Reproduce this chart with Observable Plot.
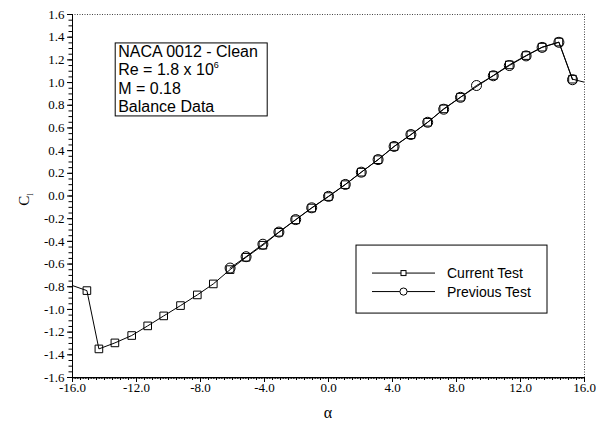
<!DOCTYPE html>
<html><head><meta charset="utf-8">
<script src="https://cdn.jsdelivr.net/npm/d3@7"></script>
<script src="https://cdn.jsdelivr.net/npm/@observablehq/plot@0.6"></script>
<style>
body{margin:0;background:#fff;}
</style>
</head><body><div id="chart"></div>
<script>
const alphaCurrent = [-16.5, -15.1, -14.35, -13.35, -12.3, -11.3, -10.3, -9.25, -8.2, -7.2, -6.15, -5.15, -4.1, -3.1, -2.05, -1.05, 0.0, 1.05, 2.05, 3.1, 4.1, 5.15, 6.2, 7.2, 8.25, 10.3, 11.3, 12.35, 13.35, 14.4, 15.25, 16.5];
const clCurrent = [-0.765, -0.834, -1.348, -1.295, -1.23, -1.145, -1.057, -0.966, -0.872, -0.775, -0.649, -0.54, -0.434, -0.32, -0.21, -0.106, -0.005, 0.10, 0.21, 0.32, 0.436, 0.54, 0.65, 0.768, 0.871, 1.062, 1.156, 1.238, 1.312, 1.357, 1.03, 0.985];
const alphaPrevious = [-6.15, -5.15, -4.1, -3.1, -2.05, -1.05, 0.0, 1.05, 2.05, 3.1, 4.1, 5.15, 6.2, 7.2, 8.25, 9.25, 10.3, 11.3, 12.35, 13.35, 14.4, 15.25];
const clPrevious = [-0.635, -0.535, -0.425, -0.318, -0.208, -0.104, -0.003, 0.102, 0.21, 0.321, 0.437, 0.542, 0.65, 0.765, 0.87, 0.974, 1.06, 1.15, 1.235, 1.31, 1.355, 1.025];
const xTickLabels = [-16, -12, -8, -4, 0, 4, 8, 12, 16];
const yTickLabels = [-1.6, -1.4, -1.2, -1.0, -0.8, -0.6, -0.4, -0.2, 0.0, 0.2, 0.4, 0.6, 0.8, 1.0, 1.2, 1.4, 1.6];
const infoLines = ["NACA 0012 - Clean", "Re = 1.8 x 10", "M = 0.18", "Balance Data"];
const legendLabels = ["Current Test", "Previous Test"];

const SERIF = "Liberation Serif";
const SANS = "Liberation Sans";

const current = alphaCurrent.map((a, i) => ({a, cl: clCurrent[i]}));
const previous = alphaPrevious.map((a, i) => ({a, cl: clPrevious[i]}));
const inDomain = d => d.a >= -16 && d.a <= 16;

const xFine = d3.range(-160, 161).map(d => d / 10);
const xHalf = d3.range(-32, 33).map(d => d / 2);
const yMinor = d3.range(-32, 33).map(d => d / 20);

const plot = Plot.plot({
  width: 596, height: 422,
  marginLeft: 72, marginRight: 12, marginTop: 14, marginBottom: 45,
  style: {fontSize: "13px", color: "#000", background: "#fff", overflow: "visible"},
  x: {domain: [-16, 16]},
  y: {domain: [-1.6, 1.6]},
  marks: [
    Plot.ruleY([1.6], {stroke: "#444", strokeDasharray: "1,1.5"}),
    Plot.ruleX([16], {stroke: "#444", strokeDasharray: "1,1.5"}),
    Plot.axisX({ticks: xFine, tickSize: 2, text: null, label: null}),
    Plot.axisX({ticks: xHalf, tickSize: 3, text: null, label: null}),
    Plot.axisX({ticks: xTickLabels, tickSize: 5, tickPadding: 0, tickFormat: d => d.toFixed(1), label: null, fontSize: 13, fontFamily: SERIF}),
    Plot.axisY({ticks: yMinor, tickSize: 3.5, text: null, label: null}),
    Plot.axisY({ticks: yTickLabels, tickSize: 5, tickPadding: 3, tickFormat: d => d.toFixed(1), label: null, fontSize: 13, fontFamily: SERIF}),
    Plot.ruleY([-1.6], {stroke: "black"}),
    Plot.ruleX([-16], {stroke: "black"}),
    Plot.line(current, {x: "a", y: "cl", stroke: "black", strokeWidth: 1, clip: true}),
    Plot.line(previous, {x: "a", y: "cl", stroke: "black", strokeWidth: 1, clip: true}),
    Plot.dot(current.filter(inDomain), {x: "a", y: "cl", symbol: "square", r: 4.3, stroke: "black", fill: "none", strokeWidth: 1}),
    Plot.dot(previous, {x: "a", y: "cl", symbol: "circle", r: 5, stroke: "black", fill: "none", strokeWidth: 1})
  ]
});

document.getElementById("chart").appendChild(plot);

const svg = d3.select(plot);
const sx = plot.scale("x"), sy = plot.scale("y");

// axis titles
svg.append("text").attr("x", sx.apply(0)).attr("y", 418).attr("font-family", SERIF)
  .attr("text-anchor", "middle").attr("font-size", 16).attr("fill", "black").text("α");
const yl = svg.append("text").attr("transform", `translate(29,${sy.apply(0) + 4}) rotate(-90)`).attr("font-family", SERIF)
  .attr("text-anchor", "middle").attr("font-size", 15).attr("fill", "black");
yl.append("tspan").text("C");
yl.append("tspan").attr("font-size", 9).attr("dy", 4).text("l");

// info box
const bx = sx.apply(-13.3), by = sy.apply(1.345);
const info = svg.append("g").attr("transform", `translate(${bx},${by})`);
info.append("rect").attr("width", 152).attr("height", 73).attr("fill", "white").attr("stroke", "black").attr("stroke-width", 1);
infoLines.forEach((t, i) => {
  const tx = info.append("text").attr("font-family", SANS).attr("x", 3).attr("y", 14 + i * 18.5)
    .attr("text-anchor", "start").attr("font-size", 16).attr("fill", "black").text(t);
  if (i === 1) tx.append("tspan").attr("font-size", 9).attr("dy", -7).text("6");
});

// legend
const lx = sx.apply(1.75), ly = sy.apply(-0.437);
const leg = svg.append("g").attr("transform", `translate(${lx},${ly})`);
leg.append("rect").attr("width", 191).attr("height", 68).attr("fill", "white").attr("stroke", "black").attr("stroke-width", 1);
legendLabels.forEach((t, i) => {
  const yy = 28 + i * 18.5;
  leg.append("line").attr("x1", 16).attr("x2", 79).attr("y1", yy).attr("y2", yy).attr("stroke", "black");
  if (i === 0) leg.append("rect").attr("x", 45).attr("y", yy - 2.5).attr("width", 5).attr("height", 5).attr("fill", "white").attr("stroke", "black");
  else leg.append("circle").attr("cx", 47.5).attr("cy", yy).attr("r", 3.6).attr("fill", "white").attr("stroke", "black");
  leg.append("text").attr("font-family", SANS).attr("x", 91).attr("y", yy + 5).attr("text-anchor", "start")
    .attr("font-size", 14).attr("fill", "black").text(t);
});
</script>
</body></html>
